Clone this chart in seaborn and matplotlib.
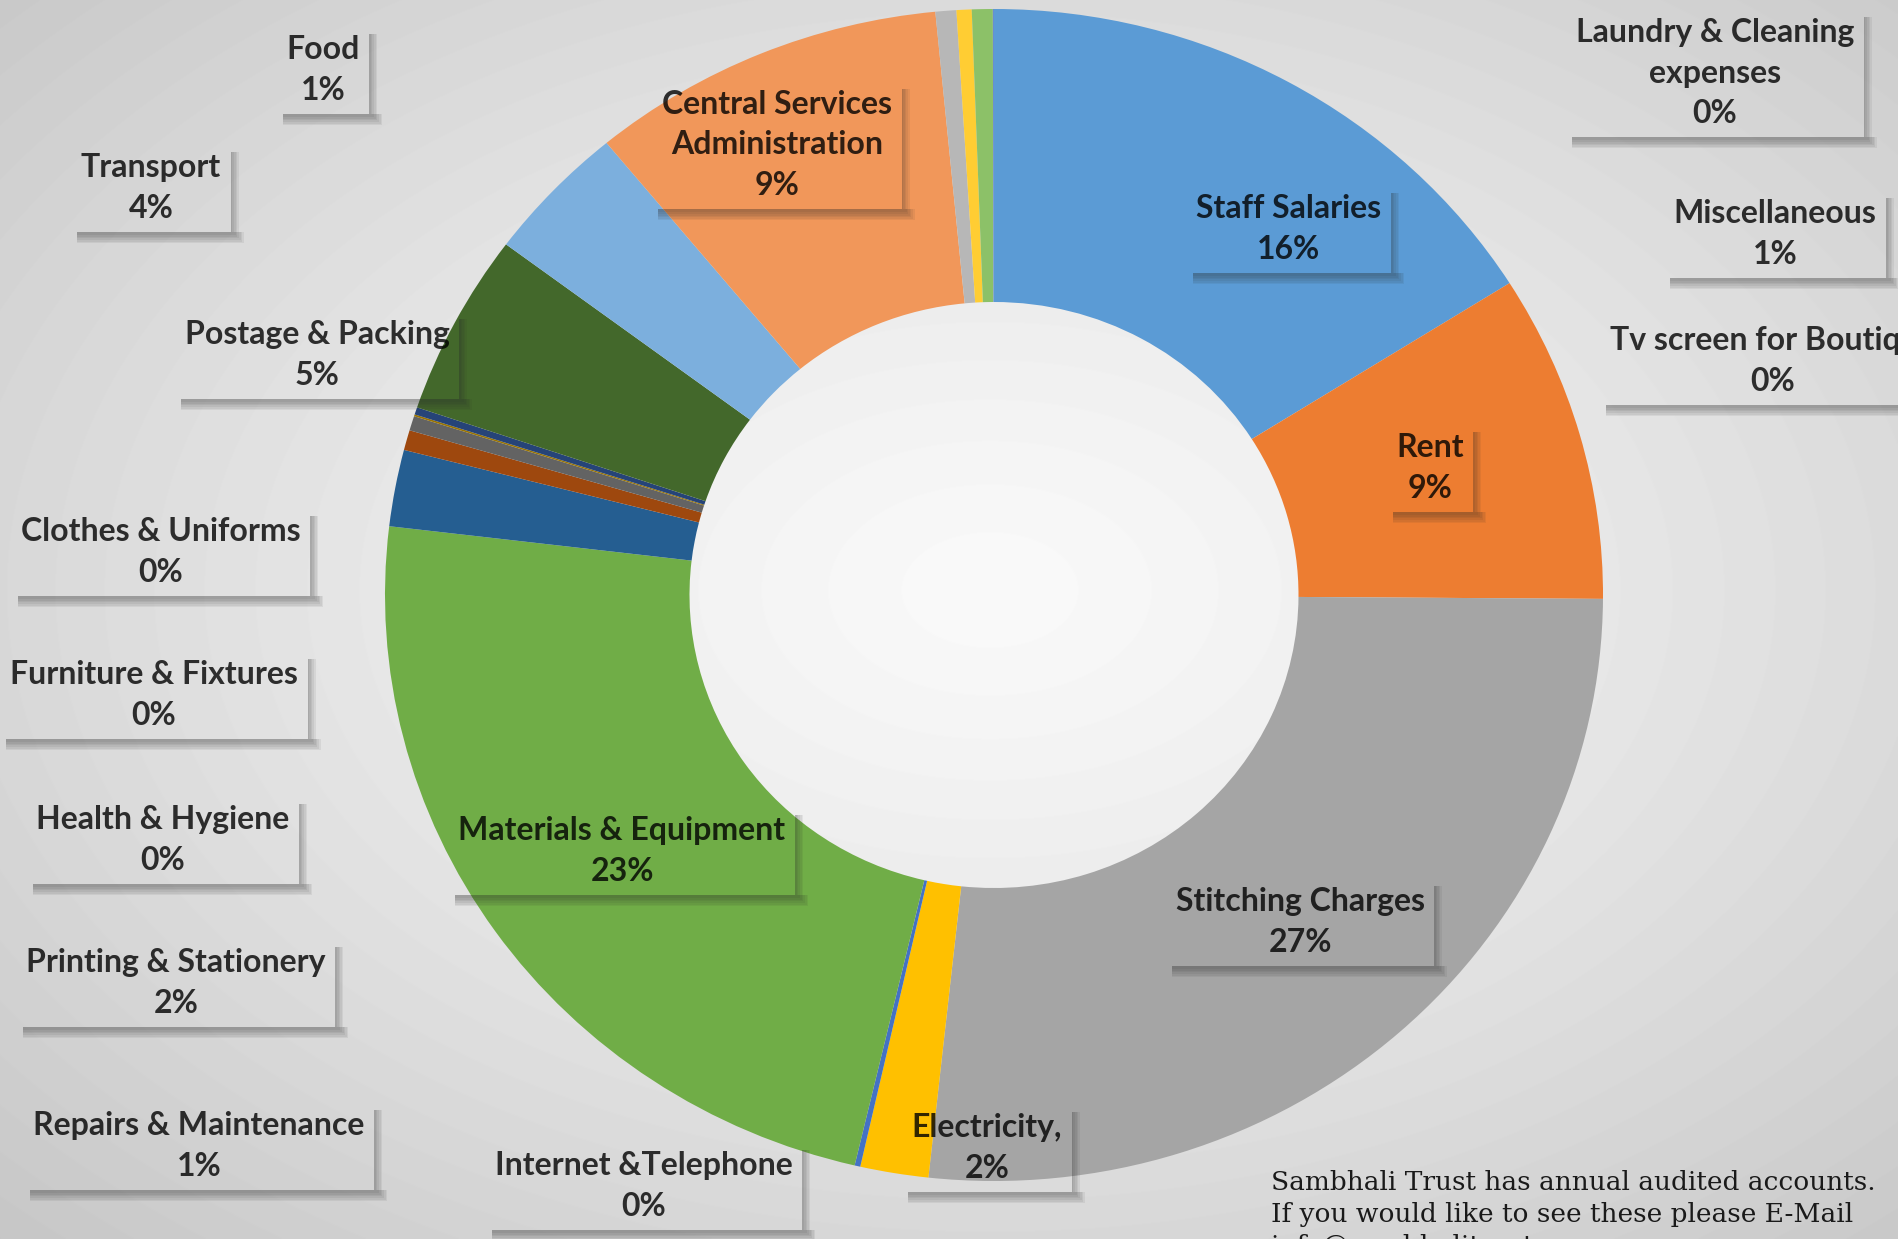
import numpy as np
import matplotlib.pyplot as plt
import seaborn as sns
from matplotlib.patches import Rectangle

# slice data (clockwise from 12 o'clock), shares in percent
categories = ["Staff Salaries", "Rent", "Stitching Charges", "Electricity,", "Internet &Telephone",
              "Materials & Equipment", "Printing & Stationery", "Repairs & Maintenance",
              "Health & Hygiene", "Furniture & Fixtures", "Clothes & Uniforms",
              "Postage & Packing", "Transport", "Central Services\nAdministration",
              "Food", "Laundry & Cleaning\nexpenses", "Miscellaneous", "Tv screen for Boutique"]
shares = [16.0, 9.0, 26.5, 1.8, 0.15, 23.1, 2.1, 0.55, 0.4, 0.05, 0.2,
          5.0, 3.8, 9.4, 0.55, 0.4, 0.55, 0.03]
colors = ["#5B9BD5", "#ED7D31", "#A5A5A5", "#FFC000", "#4472C4", "#70AD47",
          "#255E91", "#9E480E", "#636363", "#997300", "#264478", "#43682B",
          "#7CAFDD", "#F1975A", "#B7B7B7", "#FFCD33", "#8CC168", "#698ED0"]

# label centres in pixels (x from left, y from top)
label_xy = [(1289, 229), (1430, 468), (1300, 922), (987, 1148), (644, 1186),
            (622, 851), (176, 983), (199, 1146), (163, 840), (154, 695), (161, 552),
            (317, 355), (151, 188), (777, 145), (323, 70), (1715, 73), (1775, 234),
            (1773, 361)]

footer_lines = ["Sambhali Trust has annual audited accounts.",
                "If you would like to see these please E-Mail",
                "info@sambhalitrust.org"]

W, H = 1898, 1239
sns.set_style("white")
plt.rcParams['font.family'] = ['Lato', 'DejaVu Sans']

fig = plt.figure(figsize=(W / 100, H / 100), dpi=100)

# radial background gradient
bg = fig.add_axes([0, 0, 1, 1], zorder=-10)
yy, xx = np.mgrid[0:H, 0:W]
d = np.sqrt(((xx - 990) / W) ** 2 + ((yy - 590) / H) ** 2) / 0.7
grad = np.clip(0.98 - 0.19 * d ** 1.2, 0, 1)
bg.imshow(grad, cmap='gray', vmin=0, vmax=1, extent=[0, 1, 0, 1], aspect='auto')
bg.axis('off')

# donut
cx, cy, rx, ry = 994, 595, 609, 586
ax = fig.add_axes([(cx - rx) / W, 1 - (cy + ry) / H, 2 * rx / W, 2 * ry / H], zorder=1)
pal = sns.color_palette(colors)
vals = np.array(shares) / np.sum(shares)
ax.pie(vals, colors=pal, startangle=90, counterclock=False, radius=1,
       wedgeprops=dict(width=0.5, linewidth=0))
ax.set_aspect('auto')
ax.set_xlim(-1, 1)
ax.set_ylim(-1, 1)
ax.axis('off')
ax.patch.set_alpha(0)

# labels
texts = []
for name, v, (px, py) in zip(categories, vals, label_xy):
    t = fig.text(px / W, 1 - py / H, f"{name}\n{round(v * 100):.0f}%",
                 ha='center', va='center', fontsize=23, fontweight='bold',
                 color='black', alpha=0.8, linespacing=1.47, zorder=6,
                 bbox=dict(boxstyle='square,pad=0.3', facecolor='none', edgecolor='none'))
    texts.append(t)

fig.canvas.draw()
renderer = fig.canvas.get_renderer()
for t in texts:
    bb = t.get_bbox_patch().get_window_extent(renderer)
    x0, y0, x1, y1 = bb.x0, bb.y0, bb.x1, bb.y1
    for k in range(6):
        h = 11 - 1.6 * k
        a = 0.07
        # bottom shadow
        fig.add_artist(Rectangle(((x0 + 6) / W, (y0 - h) / H), (x1 - x0 + h - 4) / W, h / H,
                                 transform=fig.transFigure, facecolor='#2a2a2a',
                                 edgecolor='none', alpha=a, zorder=5))
        # right shadow
        fig.add_artist(Rectangle((x1 / W, y0 / H), (h - 3) / W, (y1 - y0 - 8) / H,
                                 transform=fig.transFigure, facecolor='#2a2a2a',
                                 edgecolor='none', alpha=a, zorder=5))

# footer note
for i, line in enumerate(footer_lines):
    fig.text(1271 / W, 1 - (1190 + 32 * i) / H, line, ha='left', va='baseline',
             fontsize=19, family=['DejaVu Serif'], color='#1a1a1a', zorder=6)

fig.savefig("out.png", dpi=100)
